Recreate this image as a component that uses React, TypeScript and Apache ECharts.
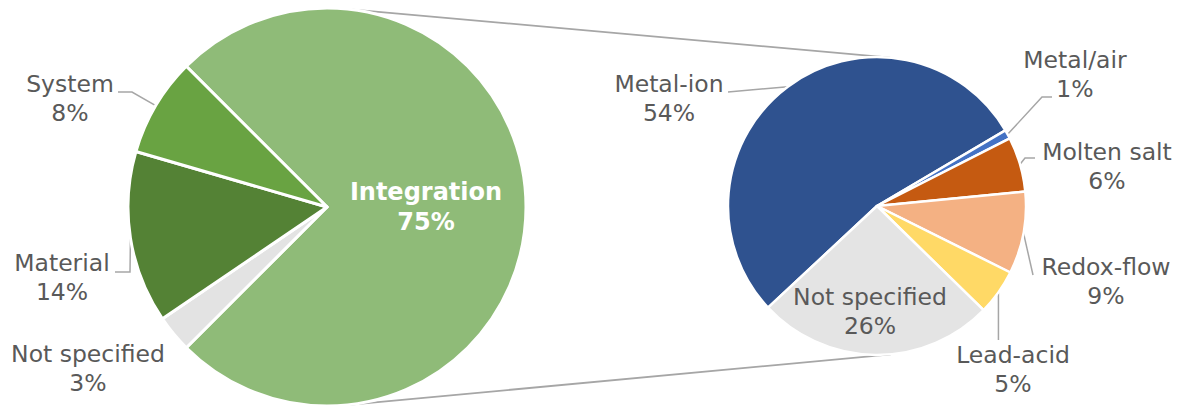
import React, { useEffect, useRef } from "react";
import * as echarts from "echarts";

// ---- data ----
const mainCategories = ["Integration", "Not specified", "Material", "System"];
const mainValues = [75, 3, 14, 8];
const detailCategories = ["Metal-ion", "Metal/air", "Molten salt", "Redox-flow", "Lead-acid", "Not specified"];
const detailValues = [54, 1, 6, 9, 5, 26];

// ---- styles / layout ----
const mainColors = ["#8fbb78", "#e3e3e3", "#548235", "#69a342"];
const detailColors = ["#2f528f", "#4472c4", "#c55a11", "#f4b183", "#ffd966", "#e4e4e4"];
const C1 = [327, 207];
const R1 = 199;
const C2 = [877, 206];
const R2 = 149;
const FONT = "'DejaVu Sans', Verdana, sans-serif";
const TEXT = "#595959";
const LINE = "#a6a6a6";

type Spec = { x: number; y: number; line: number[][] | null; vertical?: number };
const mainLabels: Spec[] = [
  { x: 426, y: 206.5, line: null },
  { x: 88, y: 368.5, line: null },
  { x: 62, y: 277.5, line: [[130, 272], [115, 272]] },
  { x: 70, y: 98.5, line: [[132, 92], [118, 92]] },
];
const detailLabels: Spec[] = [
  { x: 669, y: 98.5, line: [[728, 92], [728, 92]] },
  { x: 1075, y: 74.5, line: [[1042, 97], [1052, 97]] },
  { x: 1107, y: 166.5, line: [[1025, 158], [1035, 158]] },
  { x: 1106, y: 281.5, line: [[1033, 275], [1033, 275]] },
  { x: 1013, y: 369.5, line: null, vertical: 340 },
  { x: 870, y: 311.5, line: null },
];

function tangents() {
  const dx = C2[0] - C1[0];
  const dy = C2[1] - C1[1];
  const d = Math.hypot(dx, dy);
  const ux = dx / d, uy = dy / d;
  const s = (R1 - R2) / d;
  const c = Math.sqrt(1 - s * s);
  const px = -uy, py = ux;
  const res: number[][][] = [];
  for (const sign of [-1, 1]) {
    const nx = s * ux + sign * c * px;
    const ny = s * uy + sign * c * py;
    res.push([
      [C1[0] + R1 * nx, C1[1] + R1 * ny],
      [C2[0] + R2 * nx, C2[1] + R2 * ny],
    ]);
  }
  return res;
}

export default function App() {
  const ref = useRef<HTMLDivElement>(null);
  useEffect(() => {
    if (!ref.current) return;
    const chart = echarts.init(ref.current, undefined, { renderer: "svg" });
    const tg = tangents();
    const baseLabel = {
      show: true,
      position: "outside",
      formatter: "{b}\n{c}%",
      color: TEXT,
      fontFamily: FONT,
      fontSize: 23.5,
      lineHeight: 29,
      align: "center",
    };
    const labelLayout = (params: any) => {
      const specs = params.seriesIndex === 0 ? mainLabels : detailLabels;
      const spec = specs[params.dataIndex];
      if (!spec) return {};
      const out: any = { x: spec.x, y: spec.y, align: "center", verticalAlign: "middle" };
      const pts = params.labelLinePoints;
      if (pts && pts[0]) {
        if (spec.line) out.labelLinePoints = [pts[0], ...spec.line];
        else if (spec.vertical != null)
          out.labelLinePoints = [pts[0], [pts[0][0], spec.vertical], [pts[0][0], spec.vertical]];
      }
      return out;
    };
    chart.setOption({
      animation: false,
      graphic: tg.map((seg) => ({
        type: "line",
        z: -1,
        shape: { x1: seg[0][0], y1: seg[0][1], x2: seg[1][0], y2: seg[1][1] },
        style: { stroke: LINE, lineWidth: 1.8 },
      })),
      series: [
        {
          type: "pie",
          center: C1,
          radius: R1,
          startAngle: 135,
          clockwise: true,
          avoidLabelOverlap: false,
          label: baseLabel,
          labelLine: { show: true, length: 8, length2: 8, lineStyle: { color: LINE, width: 1.5 } },
          labelLayout,
          itemStyle: { borderColor: "#fff", borderWidth: 3 },
          emphasis: { disabled: true },
          data: mainCategories.map((name, i) => ({
            name,
            value: mainValues[i],
            itemStyle: { color: mainColors[i] },
            ...(i === 0
              ? {
                  label: { position: "inside", color: "#fff", fontWeight: "bold", fontSize: 24, lineHeight: 30 },
                  labelLine: { show: false },
                }
              : mainLabels[i].line
              ? {}
              : { labelLine: { show: false } }),
          })),
        },
        {
          type: "pie",
          center: C2,
          radius: R2,
          startAngle: 223,
          clockwise: true,
          avoidLabelOverlap: false,
          label: baseLabel,
          labelLine: { show: true, length: 8, length2: 8, lineStyle: { color: LINE, width: 1.5 } },
          labelLayout,
          itemStyle: { borderColor: "#fff", borderWidth: 2.5 },
          emphasis: { disabled: true },
          data: detailCategories.map((name, i) => ({
            name,
            value: detailValues[i],
            itemStyle: { color: detailColors[i] },
            ...(i === detailCategories.length - 1
              ? { label: { position: "inside" }, labelLine: { show: false } }
              : {}),
          })),
        },
      ],
    });
    return () => chart.dispose();
  }, []);
  return (
    <div
      ref={ref}
      style={{ position: "fixed", left: 0, top: 0, width: 1184, height: 407, background: "#fff" }}
    />
  );
}
